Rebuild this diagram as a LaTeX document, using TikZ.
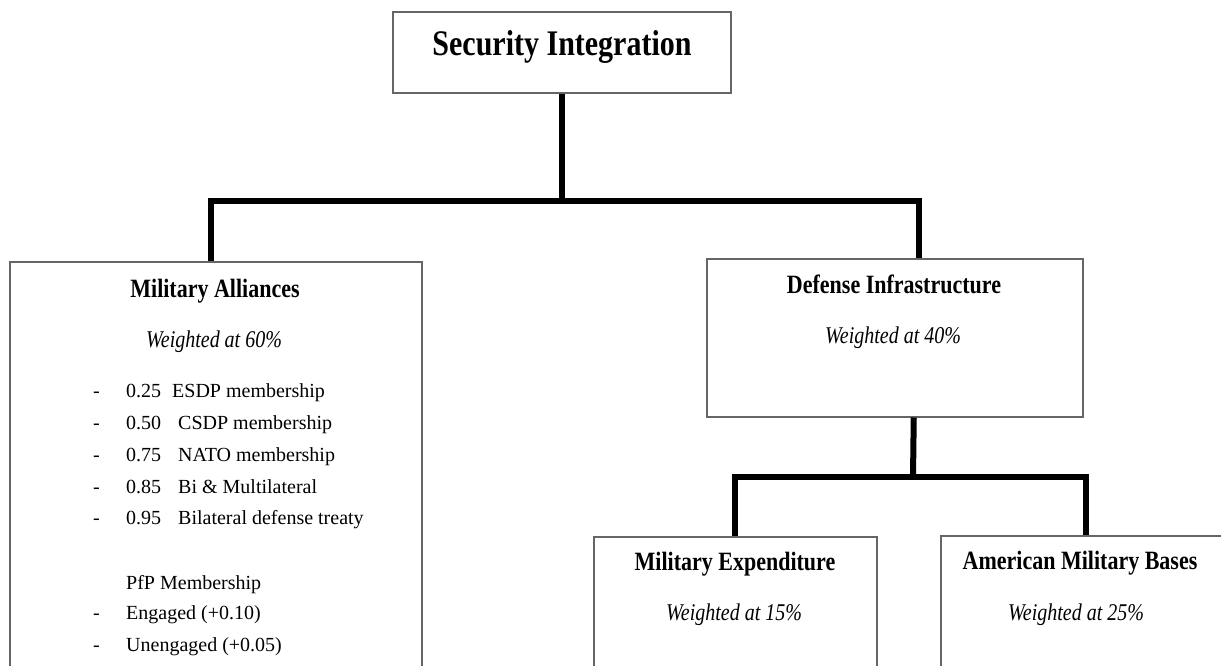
\documentclass[tikz,border=0pt]{standalone}
\usepackage{fontspec}
\setmainfont{Liberation Serif}
\usepackage{graphicx}
\usetikzlibrary{calc}
\def\tall#1{\scalebox{1}[1.2]{#1}}
\tikzset{box/.style={draw=black!60,line width=1.5pt,fill=white,inner sep=0pt},
  trunk/.style={line width=6pt,black},
  title/.style={anchor=base,inner sep=0pt,font=\fontsize{22}{26}\selectfont\bfseries},
  weight/.style={anchor=base,inner sep=0pt,font=\fontsize{20}{24}\selectfont\itshape},
  item/.style={anchor=base west,inner sep=0pt,font=\fontsize{20}{24}\selectfont}}

\begin{document}
\begin{tikzpicture}[x=1pt,y=-1pt]
\useasboundingbox (0,0) rectangle (1221,665);
\clip (0,0) rectangle (1221,665);
  % boxes
  \node[box,minimum width=338pt,minimum height=81pt] (sec) at (562,52.5) {};
  \node[box,anchor=north west,minimum width=412pt,minimum height=440pt] (alliances) at (9,261) {};
  \node[box,anchor=north west,minimum width=376pt,minimum height=158pt] (infra) at (706,258) {};
  \node[box,anchor=north west,minimum width=283pt,minimum height=200pt] (expend) at (593,536) {};
  \node[box,anchor=north west,minimum width=282pt,minimum height=200pt] (bases) at (940,535) {};
  % titles
  \node[anchor=base,inner sep=0pt,font=\fontsize{30}{36}\selectfont\bfseries] (sectitle) at (562,55) {\tall{Security Integration}};
  \node[title] (alltitle) at (215,297) {\tall{Military Alliances}};
  \node[weight] (allweight) at (214,347) {\tall{Weighted at 60\%}};
  \node[title] (inftitle) at (894,293) {\tall{Defense Infrastructure}};
  \node[weight] (infweight) at (893,343) {\tall{Weighted at 40\%}};
  \node[title] (exptitle) at (735,570) {\tall{Military Expenditure}};
  \node[weight] (expweight) at (734,620) {\tall{Weighted at 15\%}};
  \node[title] (bastitle) at (1080,569) {\tall{American Military Bases}};
  \node[weight] (basweight) at (1076,620) {\tall{Weighted at 25\%}};
  % alliance levels
  \foreach[count=\i] \n/\t/\x in {0.25/ESDP membership/172,0.50/CSDP membership/178,
    0.75/NATO membership/178,0.85/Bi \& Multilateral/178,0.95/Bilateral defense treaty/178} {
    \node[item] (dash\i) at (93,{397.3+31.9*(\i-1)}) {-};
    \node[item] (num\i) at (126,{397.3+31.9*(\i-1)}) {\n};
    \node[item] (lvl\i) at (\x,{397.3+31.9*(\i-1)}) {\t};}
  \node[item] (pfp) at (126,589) {PfP Membership};
  \node[item] (dash6) at (93,619) {-}; \node[item] (engaged) at (126,619) {Engaged (+0.10)};
  \node[item] (dash7) at (93,651) {-}; \node[item] (unengaged) at (126,651) {Unengaged (+0.05)};
  % connectors
  \coordinate (split) at (562,201);
  \draw[trunk] (sec.south) -- (split);
  \draw[trunk] ([xshift=-5pt]alliances.north) |- (split) -| ([xshift=24pt]infra.north);
  \coordinate (split2) at (913,477);
  \draw[trunk] ([xshift=19pt]infra.south) -- (split2);
  \draw[trunk] (expend.north) |- (split2) -| ([xshift=4pt]bases.north);
\end{tikzpicture}
\end{document}
